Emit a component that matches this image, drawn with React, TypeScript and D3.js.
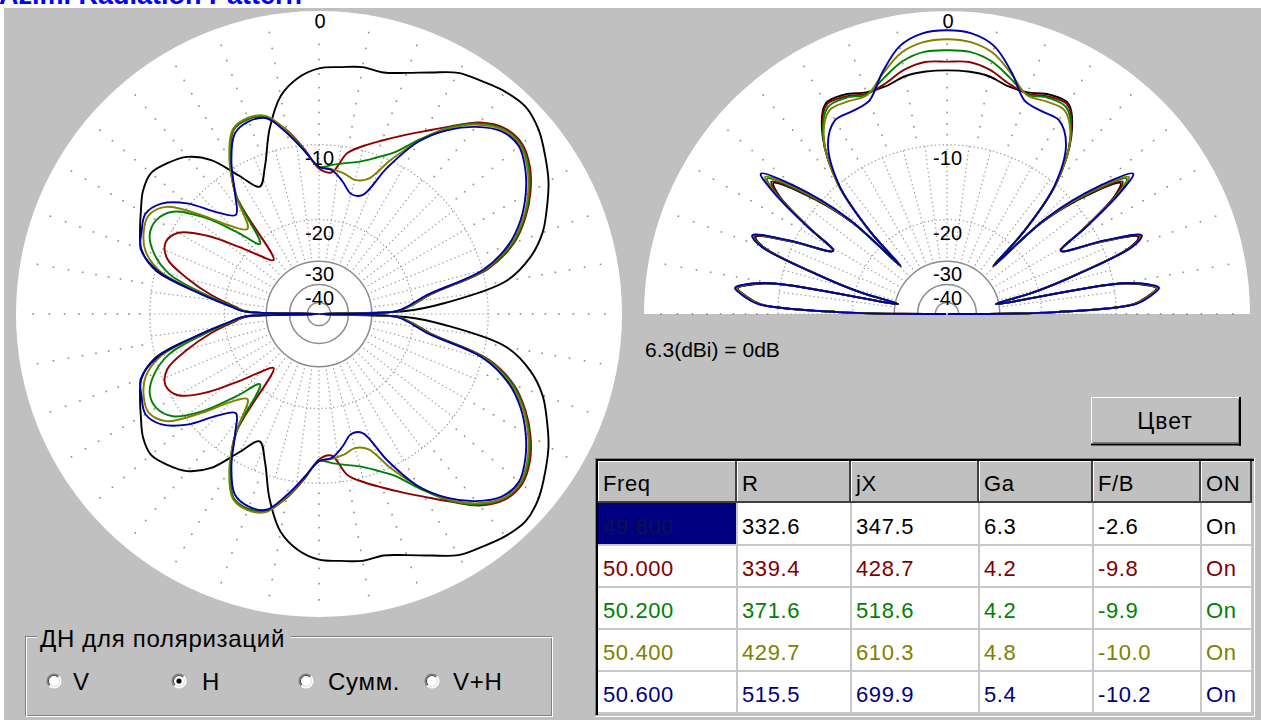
import React from "react";
import * as d3 from "d3";

// series (frequency, MHz)
const freqs = ["49.800", "50.000", "50.200", "50.400", "50.600"];
const rVals = ["332.6", "339.4", "371.6", "429.7", "515.5"];
const jxVals = ["347.5", "428.7", "518.6", "610.3", "699.9"];
const gaVals = ["6.3", "4.2", "4.2", "4.8", "5.4"];
const fbVals = ["-2.6", "-9.8", "-9.9", "-10.0", "-10.2"];
const onVals = ["On", "On", "On", "On", "On"];
const headers = ["Freq", "R", "jX", "Ga", "F/B", "ON"];

const textColors = ["#000000", "#800000", "#008000", "#808000", "#000080"];
const lineColors = ["#000000", "#900000", "#008000", "#808000", "#0000a8"];

// azimuth pattern, dB, angle from +x axis (upper half, mirrored below)
const azAngles = [0, 2, 5, 10, 15, 20, 25, 30, 35, 40, 45, 50, 55, 60, 65, 70, 75, 80, 85, 90,
  95, 100, 105, 110, 115, 120, 125, 130, 135, 140, 145, 150, 155, 160, 165, 170, 175, 178, 180];
const az49800 = [-99, -21.5, -15, -8.0, -5.6, -4.15, -3.2, -2.3, -1.6, -0.95, -0.6, -0.75, -1.1, -1.45, -2.2, -2.85, -3.3, -3.25, -3.45, -3.6,
  -4.2, -5.4, -7.9, -11.2, -13.2, -11.0, -8.2, -6.7, -6.0, -5.55, -5.9, -6.65, -7.35, -8.1, -10.0, -15.5, -21, -24, -99];
const az50000 = [-99, -23.5, -20.5, -16.8, -9.4, -6.5, -4.9, -3.7, -2.8, -2.3, -2.45, -3.3, -4.8, -6.2, -7.4, -8.5, -9.5, -10.6, -13.0, -12.6,
  -10.4, -8.3, -6.8, -6.5, -6.9, -9.2, -12.7, -25, -22.5, -18.3, -13.7, -10.7, -10.0, -10.8, -13.8, -17.5, -22, -24.5, -99];
const az50200 = [-99, -23.5, -20.6, -17.0, -9.6, -6.6, -5.0, -3.8, -2.9, -2.4, -2.55, -3.4, -4.9, -7.0, -9.1, -10.3, -11.2, -11.7, -12.1, -12.4,
  -10.5, -8.4, -6.8, -6.5, -6.9, -9.3, -12.8, -20.5, -16.5, -12.0, -9.1, -8.2, -8.3, -9.4, -11.5, -16.3, -21.5, -24.3, -99];
const az50400 = [-99, -23.5, -20.7, -17.2, -9.8, -6.8, -5.1, -3.9, -3.0, -2.45, -2.6, -3.5, -5.0, -7.2, -9.9, -12.8, -13.4, -12.9, -12.6, -12.4,
  -10.6, -8.4, -6.7, -6.4, -6.8, -9.0, -12.6, -17.2, -15.3, -11.6, -8.3, -7.4, -7.7, -8.5, -10.5, -15.8, -21.2, -24.2, -99];
const az50600 = [-99, -23.5, -21, -17.4, -9.95, -7.0, -5.3, -4.1, -3.17, -2.56, -2.74, -3.7, -5.15, -7.2, -10.8, -15.0, -15.3, -13.9, -12.7, -12.4,
  -10.6, -8.6, -6.9, -6.7, -7.2, -9.4, -12.5, -14.6, -12.8, -9.7, -7.8, -7.1, -7.5, -8.05, -10.2, -15.5, -21, -24, -99];

// elevation pattern, dB, angle from right horizon (left half, mirrored right)
const elAngles = [90, 95, 100, 105, 110, 115, 120, 125, 130, 133, 134, 136, 140, 143, 145, 148, 151, 155, 158, 160,
  163, 166, 168.5, 170, 172, 173, 175, 177, 179, 180];
const el49800 = [-3.74, -3.76, -3.9, -4.3, -4.3, -3.85, -3.8, -5.75, -10.0, -17, -26, -14.3, -8.3, -5.7, -6.8, -10.8, -14.5, -9.8, -6.6, -7.6,
  -13.8, -21, -31, -9.5, -6.8, -6.2, -7.0, -8.3, -17.5, -99];
const el50000 = [-3.14, -3.1, -3.45, -4.1, -4.4, -4.0, -3.9, -5.85, -10.0, -17, -26, -14.2, -8.1, -5.5, -6.7, -10.7, -14.5, -9.7, -6.5, -7.5,
  -13.7, -21, -31, -9.4, -6.7, -6.2, -7.0, -8.3, -17.5, -99];
const el50200 = [-2.38, -2.42, -2.85, -3.7, -4.45, -4.1, -4.1, -5.85, -10.0, -17, -26, -14.0, -7.8, -5.1, -6.5, -10.6, -14.5, -9.6, -6.3, -7.4,
  -13.6, -21, -31, -9.3, -6.6, -6.1, -6.9, -8.2, -17.5, -99];
const el50400 = [-1.68, -1.8, -2.3, -3.4, -4.5, -4.4, -4.35, -5.9, -10.0, -17, -26, -13.8, -7.6, -4.9, -6.4, -10.6, -14.5, -9.6, -6.4, -7.4,
  -13.6, -21, -31, -9.3, -6.6, -6.1, -6.9, -8.2, -17.5, -99];
const el50600 = [-1.13, -1.25, -1.85, -3.3, -4.95, -5.2, -5.2, -6.5, -10.2, -17, -26, -13.5, -7.2, -4.5, -6.2, -10.5, -14.5, -9.5, -6.3, -7.3,
  -13.5, -21, -31, -9.2, -6.5, -6.0, -6.8, -8.1, -17.5, -99];

const azSeries = [az49800, az50000, az50200, az50400, az50600];
const elSeries = [el49800, el50000, el50200, el50400, el50600];

const ringDb = [0, -10, -20, -30, -40];
const ringLabels = ["0", "-10", "-20", "-30", "-40"];
const polarisations = ["V", "H", "Сумм.", "V+H"];

const FONT = "'Liberation Sans', Arial, sans-serif";
const R = 303;
const deg = Math.PI / 180;
// ARRL log scale: 0.89 per 2 dB
const rScale = d3.scaleLog().domain([R * Math.pow(0.89, 50), R]).range([-100, 0]);
const rad = (db: number) => rScale.invert(Math.max(-100, Math.min(0, db)));

const azLine = d3
  .lineRadial<number[]>()
  .angle((d) => d[0])
  .radius((d) => d[1])
  .curve(d3.curveCatmullRomClosed.alpha(0.5));

const elLine = d3
  .lineRadial<number[]>()
  .angle((d) => d[0])
  .radius((d) => d[1])
  .curve(d3.curveCatmullRom.alpha(0.5));

function azPoints(vals: number[]) {
  const pts = azAngles.map((t, i) => [(90 - t) * deg, rad(vals[i])]);
  for (let i = azAngles.length - 2; i >= 1; i--) pts.push([(90 + azAngles[i]) * deg, rad(vals[i])]);
  return pts;
}

function elPoints(vals: number[]) {
  const pts: number[][] = [];
  for (let i = elAngles.length - 1; i >= 0; i--) pts.push([(elAngles[i] - 90) * deg, rad(vals[i])]);
  for (let i = 1; i < elAngles.length; i++) pts.push([(90 - elAngles[i]) * deg, rad(vals[i])]);
  return pts;
}

function Polar({ cx, cy, half }: { cx: number; cy: number; half: boolean }) {
  const outerRays = d3.range(0, half ? 181 : 360, 10);
  const innerRays = d3.range(0, half ? 180.1 : 360, 7.5);
  const ring = (r: number) =>
    half
      ? `M${cx - r},${cy}A${r},${r} 0 0 1 ${cx + r},${cy}`
      : `M${cx - r},${cy}A${r},${r} 0 1 1 ${cx + r},${cy}A${r},${r} 0 1 1 ${cx - r},${cy}`;
  const dots: number[][] = [];
  outerRays.forEach((a) =>
    d3.range(-1, -10, -1).forEach((db) => {
      const r = rad(db);
      dots.push([cx + r * Math.cos(a * deg), cy - r * Math.sin(a * deg)]);
    })
  );
  const series = half ? elSeries : azSeries;
  return (
    <g>
      <path d={ring(R) + (half ? "Z" : "")} fill="#ffffff" />
      {dots.map((p, i) => (
        <rect key={i} x={p[0] - 0.8} y={p[1] - 0.8} width={1.6} height={1.6} fill="#8c8c8c" />
      ))}
      {innerRays.map((a) => (
        <line
          key={a}
          x1={cx + rad(-10) * Math.cos(a * deg)}
          y1={cy - rad(-10) * Math.sin(a * deg)}
          x2={cx + rad(-30) * Math.cos(a * deg)}
          y2={cy - rad(-30) * Math.sin(a * deg)}
          stroke="#9a9a9a"
          strokeWidth={1.2}
          strokeDasharray="1.3 3"
        />
      ))}
      {[-10, -20].map((db) => (
        <path key={db} d={ring(rad(db))} fill="none" stroke="#9a9a9a" strokeWidth={1.2} strokeDasharray="1.3 2.6" />
      ))}
      {[-30, -40, -56].map((db) => (
        <path key={db} d={ring(rad(db))} fill="none" stroke="#8c8c8c" strokeWidth={1.5} />
      ))}
      {ringDb.map((db, i) => (
        <text
          key={db}
          x={i === 0 ? cx + 1 : cx + 15}
          y={cy - rad(db) + (i === 0 ? 17 : 20)}
          fontSize={20}
          textAnchor={i === 0 ? "middle" : "end"}
          fill="#000"
        >
          {ringLabels[i]}
        </text>
      ))}
      <g transform={`translate(${cx},${cy})`}>
        {series.map((vals, i) => (
          <path
            key={i}
            d={(half ? elLine(elPoints(vals)) : azLine(azPoints(vals))) || ""}
            fill="none"
            stroke={lineColors[i]}
            strokeWidth={1.9}
            strokeLinejoin="round"
          />
        ))}
      </g>
    </g>
  );
}

function Radio({ x, y, checked }: { x: number; y: number; checked: boolean }) {
  const arc = d3.arc();
  const a = (r0: number, r1: number, s: number, e: number) =>
    arc({ innerRadius: r0, outerRadius: r1, startAngle: s, endAngle: e }) || "";
  return (
    <g transform={`translate(${x},${y})`}>
      <circle r={6} fill="#ffffff" />
      <path d={a(6, 7.5, -0.75 * Math.PI, 0.25 * Math.PI)} fill="#808080" />
      <path d={a(6, 7.5, 0.25 * Math.PI, 1.25 * Math.PI)} fill="#ffffff" />
      <path d={a(5, 6, -0.75 * Math.PI, 0.25 * Math.PI)} fill="#404040" />
      <path d={a(5, 6, 0.25 * Math.PI, 1.25 * Math.PI)} fill="#dfdfdf" />
      {checked && <circle r={2.6} fill="#000" />}
    </g>
  );
}

const cols = [598, 737, 851, 979, 1093, 1201, 1252];
const headTop = 461;
const headBottom = 503;
const rowH = 42;

function Table() {
  const rows = freqs.map((f, i) => [f, rVals[i], jxVals[i], gaVals[i], fbVals[i], onVals[i]]);
  const bottom = headBottom + rowH * rows.length;
  return (
    <g>
      <defs>
        <clipPath id="tclip">
          <rect x={597} y={460} width={655} height={bottom - 458} />
        </clipPath>
      </defs>
      <rect x={596} y={459} width={658} height={bottom - 457} fill="#c0c0c0" />
      <g clipPath="url(#tclip)">
        <rect x={598} y={headBottom} width={656} height={bottom - headBottom} fill="#ffffff" />
        {headers.map((h, j) => (
          <g key={h}>
            <rect x={cols[j]} y={headTop} width={cols[j + 1] - cols[j]} height={headBottom - headTop} fill="#c0c0c0" />
            <line x1={cols[j] + 0.5} y1={headTop} x2={cols[j] + 0.5} y2={headBottom} stroke="#fff" />
            <line x1={cols[j]} y1={headTop + 0.5} x2={cols[j + 1]} y2={headTop + 0.5} stroke="#fff" />
            <line x1={cols[j + 1] - 1} y1={headTop} x2={cols[j + 1] - 1} y2={headBottom} stroke="#404040" strokeWidth={2} />
            <text x={cols[j] + 5} y={headTop + 30} fontSize={22} letterSpacing={0.6} fill="#000">
              {h}
            </text>
          </g>
        ))}
        <line x1={598} y1={headBottom - 1} x2={1254} y2={headBottom - 1} stroke="#404040" strokeWidth={2} />
        <rect x={cols[0]} y={headBottom} width={cols[1] - cols[0] - 1} height={rowH - 1} fill="#000080" />
        {rows.map((row, i) => (
          <g key={i}>
            <line x1={598} y1={headBottom + rowH * (i + 1)} x2={1254} y2={headBottom + rowH * (i + 1)} stroke="#c8c8c8" strokeWidth={2} />
            {row.map((v, j) => (
              <text
                key={j}
                x={cols[j] + 5}
                y={headBottom + rowH * i + 31}
                fontSize={22}
                letterSpacing={0.6}
                fill={i === 0 && j === 0 ? "#10104a" : textColors[i]}
              >
                {v}
              </text>
            ))}
          </g>
        ))}
        {cols.slice(1).map((x) => (
          <line key={x} x1={x} y1={headBottom} x2={x} y2={bottom} stroke="#c8c8c8" strokeWidth={2} />
        ))}
      </g>
      <line x1={595.5} y1={458} x2={595.5} y2={bottom + 3} stroke="#808080" />
      <line x1={595} y1={458.5} x2={1255} y2={458.5} stroke="#808080" />
      <line x1={597} y1={459} x2={597} y2={bottom + 2} stroke="#000" strokeWidth={2} />
      <line x1={596} y1={460} x2={1254} y2={460} stroke="#000" strokeWidth={2} />
      <line x1={595} y1={bottom + 3.5} x2={1255} y2={bottom + 3.5} stroke="#fff" />
      <line x1={1254.5} y1={458} x2={1254.5} y2={bottom + 4} stroke="#fff" />
    </g>
  );
}

export default function App() {
  const radioX = [54, 179, 306, 432];
  const labelX = [73, 202, 328, 453];
  return (
    <svg
      width={1261}
      height={720}
      style={{ position: "absolute", left: 0, top: 0 }}
      fontFamily={FONT}
    >
      <rect x={0} y={0} width={1261} height={720} fill="#ffffff" />
      <text x={-1} y={4} fontSize={27} fontWeight="bold" fill="#0000ff">
        Azim. Radiation Pattern
      </text>
      <rect x={4} y={8} width={1257} height={712} fill="#c0c0c0" />

      <Polar cx={319} cy={314} half={false} />
      <Polar cx={947} cy={314} half={true} />

      <text x={645} y={357} fontSize={21} fill="#000">
        6.3(dBi) = 0dB
      </text>

      {/* colour button */}
      <rect x={1091} y={397} width={149} height={48} fill="#c0c0c0" />
      <line x1={1091} y1={397.5} x2={1240} y2={397.5} stroke="#fff" />
      <line x1={1091.5} y1={397} x2={1091.5} y2={445} stroke="#fff" />
      <line x1={1091} y1={444.5} x2={1241} y2={444.5} stroke="#000" strokeWidth={2} />
      <line x1={1240} y1={397} x2={1240} y2={446} stroke="#000" strokeWidth={2} />
      <line x1={1093} y1={442.5} x2={1238} y2={442.5} stroke="#808080" />
      <line x1={1238.5} y1={399} x2={1238.5} y2={443} stroke="#808080" />
      <text x={1165} y={429} fontSize={23} letterSpacing={1} textAnchor="middle" fill="#000">
        Цвет
      </text>

      <Table />

      {/* polarisation group */}
      <rect x={25.5} y={636.5} width={526} height={79} fill="none" stroke="#808080" />
      <rect x={26.5} y={637.5} width={526} height={79} fill="none" stroke="#ffffff" />
      <rect x={37} y={626} width={254} height={22} fill="#c0c0c0" />
      <text x={40} y={647} fontSize={24} letterSpacing={0.7} fill="#000">
        ДН для поляризаций
      </text>
      {polarisations.map((p, i) => (
        <g key={p}>
          <Radio x={radioX[i]} y={681} checked={i === 1} />
          <text x={labelX[i]} y={690} fontSize={24} letterSpacing={0.7} fill="#000">
            {p}
          </text>
        </g>
      ))}
    </svg>
  );
}
